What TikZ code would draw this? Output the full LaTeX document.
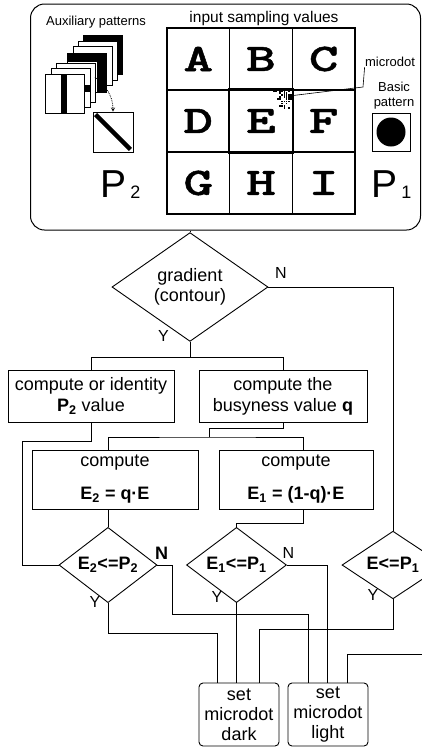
\documentclass[tikz,border=0pt]{standalone}
\usepackage{fontspec}
\setmainfont{Liberation Sans}
\newfontfamily\cellfont{lmmonolt10-bold.otf}[FakeStretch=1.45,FakeBold=1.2]
\usetikzlibrary{shapes.geometric,calc}

\begin{document}
\begin{tikzpicture}[x=1pt,y=-1pt,line width=0.9pt,
  box/.style={draw,align=center,inner sep=0pt,
    font=\fontsize{18}{21}\selectfont},
  dia/.style={draw,shape=diamond,align=center,inner sep=0pt,
    font=\fontsize{18}{20}\selectfont},
  setbox/.style={draw,rounded corners=4pt,align=center,inner sep=0pt,
    minimum width=80pt,minimum height=63pt,font=\fontsize{18}{20}\selectfont},
  lbl/.style={inner sep=0pt,font=\fontsize{16}{16}\selectfont},
  small/.style={inner sep=0pt,align=center,font=\fontsize{13}{15}\selectfont},
  cell/.style={draw,line width=1.2pt,minimum width=62.67pt,minimum height=62pt,
    inner sep=0pt,font=\cellfont\fontsize{39}{39}\selectfont},
  card/.style={draw,line width=0.6pt,fill=white},
  >=stealth
]
\useasboundingbox (0,0) rectangle (422,748);
\clip (0,0) rectangle (422,748);

\node[draw,rounded corners=14pt,line width=1pt,minimum width=390pt,
  minimum height=226pt] (inbox) at (225.5,117) {};
\node[small] (auxlab) at (96,22) {Auxiliary patterns};
\node[small,font=\fontsize{15.5}{17}\selectfont] (inlab) at (264,18.3)
  {input sampling values};

\foreach \ch [count=\k from 0] in {A,...,I}{
  \pgfmathtruncatemacro\col{mod(\k,3)}
  \pgfmathtruncatemacro\row{div(\k,3)}
  \node[cell] (c\ch) at ({198.3+62.67*\col},{59+62*\row}) {\ch};
}
\draw[line width=2.4pt] (cE.south west) rectangle (cE.north east);

\pgfmathsetseed{7}
\foreach \i in {0,...,8}{
  \foreach \j in {0,...,8}{
    \pgfmathsetmacro\dd{sqrt((\i-6)^2+(\j-2)^2)/7.5}
    \pgfmathsetmacro\rr{rnd}
    \ifdim\rr pt>\dd pt \fill (273+2.1*\i,90+2.1*\j) rectangle ++(1.8,1.8);\fi
  }
}
\coordinate (mdot) at (289,96);
\node[small] (mlab) at (390,62) {microdot};
\draw[line width=0.6pt] (mdot) -- (363,87) -- (mlab.south west);

\node[small] (baslab) at (394,96) {Basic\\pattern};
\node[draw,line width=0.8pt,minimum size=38pt,inner sep=0pt] (basbox)
  at (391,132) {};
\fill (basbox.center) circle (14.5);
\node[inner sep=0pt,anchor=base west] (p1) at (371,197)
  {\fontsize{39}{39}\selectfont P\kern4pt\raisebox{-1.5pt}{\fontsize{18}{18}\selectfont 1}};

\foreach \cx/\cy/\pat in {83/35/1,78/41/0,73/46/0,67/53/2,56/63/0,51/68/3,45/74/4}{
  \draw[card] (\cx,\cy) rectangle ++(39,39);
  \ifcase\pat
  \or \fill (\cx,\cy) rectangle ++(39,39);
  \or \fill (\cx,\cy) rectangle ++(39,9);
      \fill (\cx+30,\cy) rectangle ++(9,39);
  \or \fill (\cx,\cy+17) rectangle ++(39,7);
  \or \fill (\cx+16,\cy) rectangle ++(6,39);
  \fi
}
\node[draw,line width=0.8pt,minimum size=40pt,inner sep=0pt] (diagbox)
  at (113,132) {};
\draw[line width=4.5pt] ($(diagbox.north west)+(3,3)$)
  -- ($(diagbox.south east)+(-3,-3)$);
\coordinate (stacktip) at (95,77);
\draw[densely dotted,->,line width=0.8pt] (stacktip)
  .. controls (106,86) and (113,96) .. (diagbox.north);
\node[inner sep=0pt,anchor=base west] (p2) at (100,197)
  {\fontsize{39}{39}\selectfont P\kern4pt\raisebox{-1.5pt}{\fontsize{18}{18}\selectfont 2}};

\node[dia,minimum width=156pt,minimum height=100pt] (grad) at (190,287)
  {gradient\\(contour)};
\node[box,minimum width=166pt,minimum height=52pt] (pbox) at (91,396)
  {compute or identity\\{\bfseries P\textsubscript{2}} value};
\node[box,minimum width=168pt,minimum height=52pt] (qbox) at (283,396)
  {compute the\\busyness value {\bfseries q}};
\node[box,minimum width=166pt,minimum height=59pt] (e2box) at (115,479.5)
  {compute\\[12pt]{\bfseries E\textsubscript{2} = q·E}};
\node[box,minimum width=154pt,minimum height=59pt] (e1box) at (296,479.5)
  {compute\\[12pt]{\bfseries E\textsubscript{1} = (1-q)·E}};
\node[dia,minimum width=98pt,minimum height=64pt] (e2dia) at (108,565)
  {\bfseries E\textsubscript{2}<=P\textsubscript{2}};
\node[dia,minimum width=100pt,minimum height=64pt] (e1dia) at (236.5,565)
  {\bfseries E\textsubscript{1}<=P\textsubscript{1}};
\node[dia,minimum width=102pt,minimum height=64pt] (edia) at (393,565)
  {\bfseries E<=P\textsubscript{1}};
\node[setbox] (darkbox) at (239,714.5) {set\\microdot\\dark};
\node[setbox] (lightbox) at (328,714.5) {set\\microdot\\light};

\node[lbl] (gradn) at (281,273) {N};
\node[lbl] (grady) at (163.5,336) {Y};
\node[lbl,font=\fontsize{18}{18}\selectfont\bfseries] (e2n) at (161.5,553) {N};
\node[lbl] (e2y) at (95,601.5) {Y};
\node[lbl] (e1n) at (288.5,552.5) {N};
\node[lbl] (e1y) at (217,596.5) {Y};
\node[lbl] (ey) at (373,595) {Y};

\draw (inbox.south -| grad.north) -- (grad.north);
\draw (grad.south) -- ++(0,16) coordinate (gsplit);
\draw (pbox.north) |- (gsplit) -| (qbox.north);
\draw (grad.east) -| (edia.north);
\draw (pbox.south) -- ++(0,19) -- ++(-69,0) |- (e2dia.west);
\coordinate (qsplit) at (209,437);
\draw (qbox.south) -- ++(0,6) -| (qsplit);
\draw ($(e2box.north)+(-7,0)$) |- (qsplit) -| ($(e1box.north)+(7,0)$);
\draw ($(e2box.south)+(-7,0)$) -- (e2dia.north);
\draw ($(e1box.south)+(7,0)$) -- ++(0,14) -| (e1dia.north);
\draw (e2dia.east) -- ++(15,0) -- ++(0,49) -| ($(lightbox.north)+(-20,0)$);
\draw (e2dia.south) -- ++(0,30) -| ($(darkbox.north)+(-22,0)$);
\draw (e1dia.east) -| ($(lightbox.north)+(-1,0)$);
\draw (e1dia.south) -- (e1dia.south |- darkbox.north);
\draw (edia.south) -- ++(0,30) -| ($(darkbox.north)+(20,0)$);
\draw (edia.east) -- ++(8,0) -- ++(0,89) -| ($(lightbox.north)+(19,0)$);
\end{tikzpicture}
\end{document}
